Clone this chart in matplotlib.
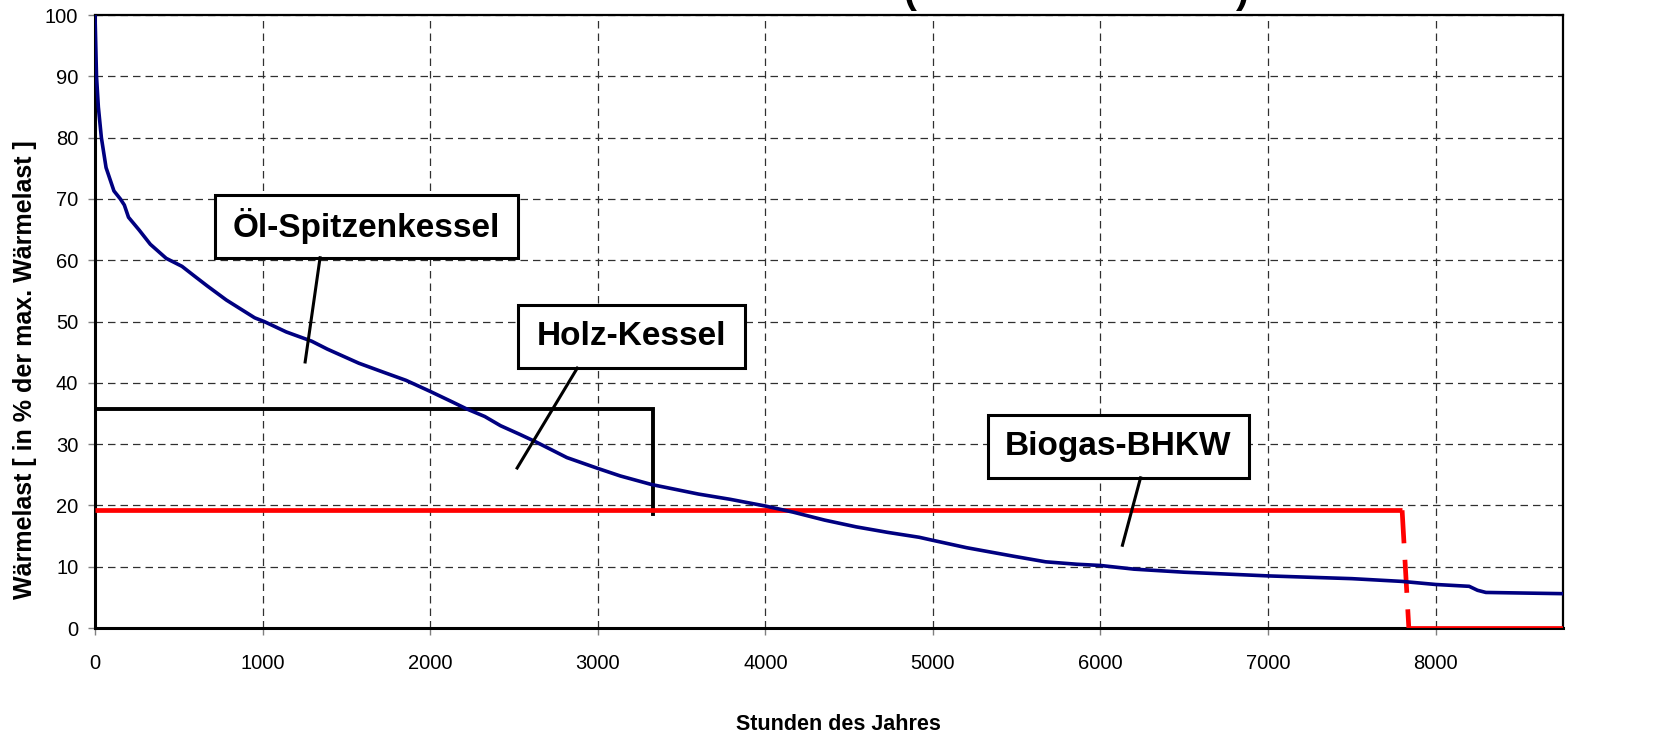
import matplotlib
matplotlib.use("Agg")
import matplotlib.pyplot as plt
from matplotlib.patches import Rectangle

plt.rcParams['font.family'] = ['Liberation Sans', 'DejaVu Sans']

# ---- data ----
hours = [0, 9, 20, 38, 66, 113, 151, 175, 200, 264, 330, 425, 519, 594, 670, 784,
         953, 1009, 1141, 1292, 1386, 1574, 1724, 1856, 2000, 2138, 2213, 2326,
         2420, 2534, 2628, 2816, 3004, 3135, 3322, 3601, 3789, 4000, 4166, 4354,
         4542, 4730, 4918, 5000, 5201, 5483, 5672, 5860, 6000, 6100, 6200, 6500,
         7000, 7500, 7800, 8000, 8200, 8250, 8300, 8760]
load = [100, 90, 85, 80, 75.1, 71.3, 70.0, 69.0, 67.0, 64.9, 62.6, 60.3, 59.0,
        57.4, 55.8, 53.5, 50.6, 50.0, 48.3, 46.8, 45.5, 43.2, 41.7, 40.4, 38.6,
        36.8, 35.8, 34.5, 33.0, 31.6, 30.4, 27.8, 26.0, 24.8, 23.4, 21.85, 21.0,
        19.9, 18.9, 17.6, 16.5, 15.6, 14.8, 14.3, 13.1, 11.7, 10.8, 10.4, 10.2,
        9.9, 9.6, 9.1, 8.5, 8.05, 7.6, 7.1, 6.8, 6.15, 5.8, 5.6]

holz_x = [0, 3330, 3330]
holz_y = [35.8, 35.8, 18.6]

bhkw_x = [0, 7800, 7840, 8760]
bhkw_y = [19.2, 19.2, 0, 0]

x_ticks = [0, 1000, 2000, 3000, 4000, 5000, 6000, 7000, 8000]
y_ticks = [0, 10, 20, 30, 40, 50, 60, 70, 80, 90, 100]

xlabel = "Stunden des Jahres"
ylabel = "Wärmelast [ in % der max. Wärmelast ]"

# ---- figure ----
fig = plt.figure(figsize=(16.58, 7.45), dpi=100)
ax = fig.add_axes([95/1658, 1-628/745, (1563-95)/1658, (628-15)/745])

ax.set_xlim(0, 8760)
ax.set_ylim(0, 100)
ax.set_xticks(x_ticks)
ax.set_yticks(y_ticks)
ax.tick_params(direction='out', length=5, width=1, color='#808080')
ax.tick_params(axis='x', pad=14)
ax.tick_params(axis='y', pad=7)
tick_font = ['Liberation Sans Narrow', 'Liberation Sans', 'DejaVu Sans']
for lab in ax.get_xticklabels() + ax.get_yticklabels():
    lab.set_fontfamily(tick_font)
    lab.set_fontsize(14.5)

ax.grid(True, color='#303030', linestyle=(0, (6, 4)), linewidth=0.9)
ax.set_axisbelow(True)
for s in ['left', 'bottom']:
    ax.spines[s].set_linewidth(2.2)
for s in ['top', 'right']:
    ax.spines[s].set_linewidth(1.6)

# Holz-Kessel line
ax.plot(holz_x, holz_y, color='black', lw=2.8, solid_joinstyle='miter', zorder=3)

# Biogas-BHKW line
ax.plot(bhkw_x[:2], bhkw_y[:2], color='#ff0000', lw=3.4, zorder=3, solid_capstyle='butt')
ax.plot(bhkw_x[1:3], bhkw_y[1:3], color='#ff0000', lw=3.4, zorder=3,
        linestyle=(0, (7, 3.5)), dash_capstyle='butt')
ax.plot(bhkw_x[2:], bhkw_y[2:], color='#ff0000', lw=3.4, zorder=3, solid_capstyle='butt')

# load duration curve
ax.plot(hours, load, color='#000080', lw=2.6, zorder=4)

ax.set_xlabel(xlabel, fontsize=15.5, fontweight='bold', va='center')
ax.xaxis.set_label_coords((838 - 95) / 1468, (628 - 725) / 613)
ax.set_ylabel(ylabel, fontsize=18, fontweight='bold', va='center')
ax.yaxis.set_label_coords((25 - 95) / 1468, (628 - 370) / 613)

# annotation boxes
def label_box(x0, x1, y0, y1, text, p0, p1):
    ax.add_patch(Rectangle((x0, y0), x1 - x0, y1 - y0, facecolor='white',
                           edgecolor='black', lw=2.2, zorder=5))
    ax.text((x0 + x1) / 2, (y0 + y1) / 2, text, ha='center', va='center',
            fontsize=24, fontweight='bold', zorder=6)
    ax.plot([p0[0], p1[0]], [p0[1], p1[1]], color='black', lw=2.2, zorder=5)

label_box(716, 2525, 60.4, 70.6, "Öl-Spitzenkessel", (1343, 60.4), (1254, 43.4))
label_box(2525, 3881, 42.4, 52.7, "Holz-Kessel", (2878, 42.4), (2519, 26.1))
label_box(5331, 6884, 24.5, 34.7, "Biogas-BHKW", (6239, 24.5), (6131, 13.5))

# clipped title remnants (parentheses at top edge)
fig.text(910/1658, 1 - 3/745, "(", fontsize=28, fontweight='bold', ha='center', va='baseline')
fig.text(1242/1658, 1 - 3/745, ")", fontsize=28, fontweight='bold', ha='center', va='baseline')

fig.savefig("out.png", dpi=100)
